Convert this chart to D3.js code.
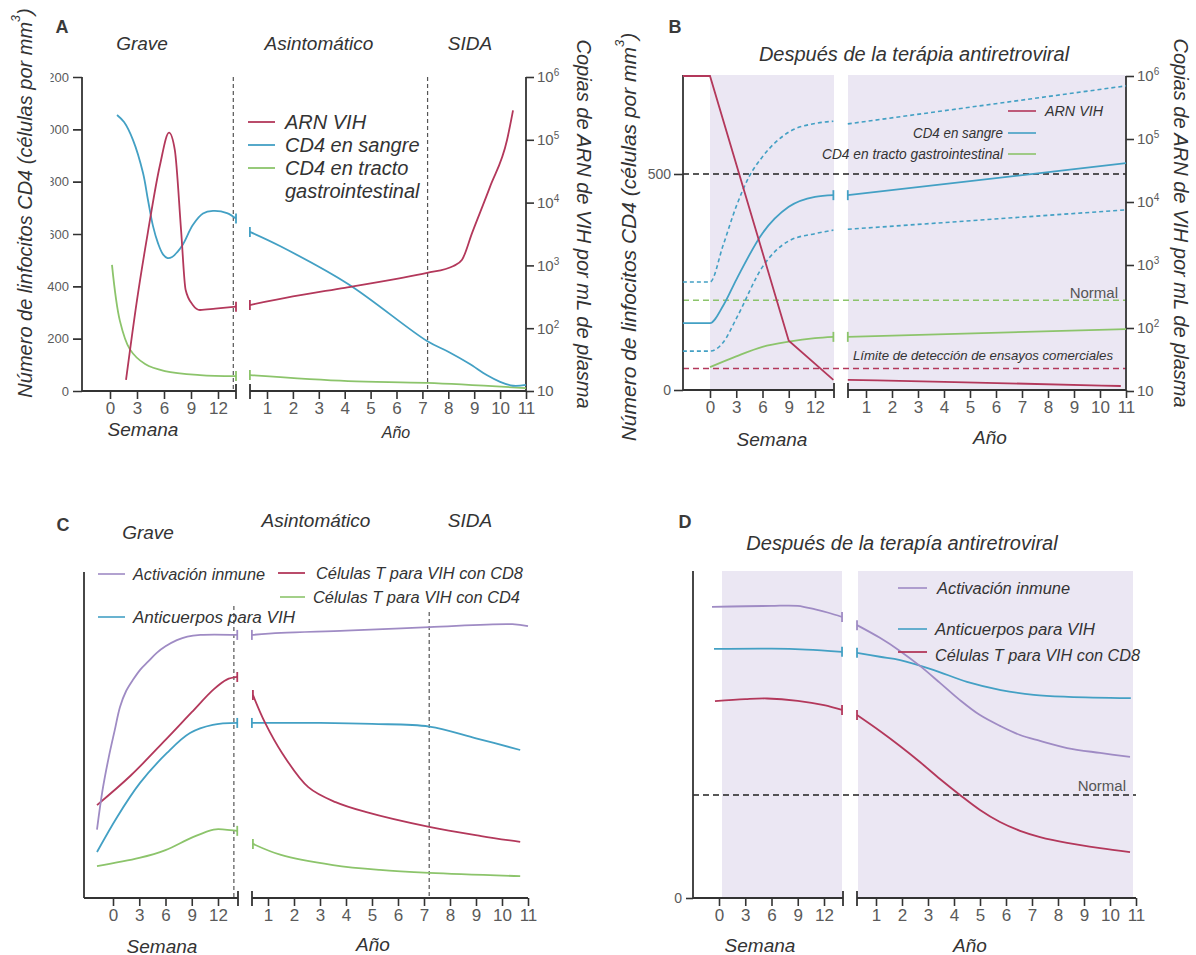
<!DOCTYPE html>
<html><head><meta charset="utf-8">
<script src="https://cdn.jsdelivr.net/npm/d3@7"></script>
<style>
body{margin:0;background:#fff;}
svg text{font-family:"Liberation Sans",Arial,sans-serif;}
</style></head><body>
<svg id="c" width="1196" height="955"></svg>
<script>
// ---------------- DATA ----------------
const weekTicks=[0,3,6,9,12];
const yearTicks=[1,2,3,4,5,6,7,8,9,10,11];
const aCd4Ticks=[0,200,400,600,800,1000,1200];
const bCd4Ticks=[0,500];
const dTicks=[0];
const rnaTicks=[10,100,1000,10000,100000,1000000];
const phaseNames=["Grave","Asintomático","SIDA"];
const phaseBreaks=[13.7,7.2]; // week boundary, year boundary

// Panel A  [week|year, value]
const aRnaWeeks=[[1.78,15],[3,280],[4.2,3300],[5.56,40000],[6.56,130000],[7.2,69000],[7.9,3600],[8.4,410],[9.2,235],[10,195],[11.7,205],[14,220]];
const aRnaYears=[[0.34,234],[2,320],[4,440],[6,610],[7.18,760],[8.2,980],[8.53,1230],[8.92,3300],[9.61,17800],[10.27,100000],[10.5,295000]];
const aCd4BloodWeeks=[[0.78,1055],[1.56,1028],[2.56,959],[3.67,833],[4.22,730],[4.78,630],[5.33,565],[5.89,522],[6.4,508],[6.9,512],[7.5,532],[8.1,560],[9.22,635],[10.33,678],[11.44,688],[13,680],[14,659]];
const aCd4BloodYears=[[0.34,608],[1.5,554],[4.13,409],[7.18,191],[8,150],[8.8,105],[9.5,60],[10,35],[10.5,20],[11,23]];
const aCd4GutWeeks=[[0.22,482],[1.1,268],[2.2,160],[3.9,103],[6.1,76],[10,61],[14,57]];
const aCd4GutYears=[[0.34,61],[4.13,38],[7.18,31],[11,11]];

// Panel B
const bRnaWeeks=[[-3.1,1000000],[0,1000000],[9,63],[14.1,15]];
const bRnaYears=[[0.3,15],[4,14],[10.8,12]];
const bCd4BloodWeeks=[[-3.1,155],[0,155],[1.5,195],[3,255],[6,363],[9,424],[12,447],[14.1,451]];
const bCd4BloodYears=[[0.3,451],[11,525]];
const bCd4UpperWeeks=[[-3.1,250],[0,250],[1.5,335],[3,425],[4.5,495],[6,540],[9,597],[12,617],[14.1,622]];
const bCd4UpperYears=[[0.3,616],[11,704]];
const bCd4LowerWeeks=[[-3.1,90],[0,90],[1.5,110],[3,165],[6,285],[9,345],[12,362],[14.1,370]];
const bCd4LowerYears=[[0.3,372],[11,417]];
const bCd4GutWeeks=[[0,53],[3,78],[6,100],[9,112],[12,120],[14.1,123]];
const bCd4GutYears=[[0.3,123],[11,141]];
const bReference=500, bGutNormal=208, bDetectionLimit=50;

// Panel C (relative units 0-100)
const cImmuneWeeks=[[-1.83,21],[-1.2,33],[-0.5,43],[0.2,51.5],[0.8,58.6],[1.5,63.5],[2.3,67],[3.1,70],[4,72.5],[5,75.2],[6,77.2],[7.3,79.1],[8.5,80.2],[10,80.7],[14.2,80.7]];
const cImmuneYears=[[0.38,80.7],[1.5,81.3],[4,82],[7.2,83.1],[10.4,84],[11,83.4]];
const cCd8Weeks=[[-1.83,28.5],[2,37.5],[6,48.5],[9,57],[11.5,64],[13,67],[14.2,67.8]];
const cCd8Years=[[0.42,62.3],[0.89,53.7],[1.54,44.5],[2.55,34],[3.6,29.4],[4.75,26.4],[7.2,21.8],[9.2,19],[10.7,17.2]];
const cAbWeeks=[[-1.83,14.1],[0.46,24.8],[3.09,35.3],[6.17,44.5],[8.8,50.6],[11.4,53.1],[14.2,53.7]];
const cAbYears=[[0.38,53.7],[3,53.7],[5,53.4],[7.2,52.6],[9,49],[10.7,45.4]];
const cCd4Weeks=[[-1.83,9.8],[3,12.3],[6,14.7],[9,18.5],[11.5,21],[12.8,21],[14.2,20.6]];
const cCd4Years=[[0.42,16.6],[1.5,13.2],[3.5,10.1],[5.3,8.6],[7.2,7.7],[10.7,6.7]];

// Panel D
const dImmuneWeeks=[[-0.8,89.3],[3,89.5],[6,89.6],[9,89.6],[11,88.5],[12.5,87.5],[14.06,86.2]];
const dImmuneYears=[[0.27,83.7],[1.15,79.8],[1.92,75.8],[2.69,71.2],[3.46,66],[4.23,60.7],[5,56.1],[5.77,52.8],[6.54,50],[7.31,48.2],[8.35,46],[9.62,44.5],[10.77,43.3]];
const dAbWeeks=[[-0.57,76.4],[6,76.5],[10,76.2],[14.06,75.5]];
const dAbYears=[[0.27,75.2],[1.15,74],[1.93,73],[3.2,70],[4.5,66.3],[5.8,63.8],[7.07,62.3],[8.4,61.7],[10.8,61.3]];
const dCd8Weeks=[[-0.46,60.4],[3,61],[5.5,61.2],[9,60.5],[12,59.2],[14.06,57.7]];
const dCd8Years=[[0.27,56.1],[1.15,51.2],[1.92,46.6],[2.69,41.7],[3.46,36.5],[4.23,31.6],[5,27],[5.77,23.3],[6.54,20.6],[7.31,18.7],[8.35,16.9],[9.62,15.3],[10.77,14.1]];
const dNormal=31.6;

// ---------------- STYLE ----------------
const RED="#b3385b", BLUE="#43a0c4", GREEN="#8cc46b", PURPLE="#9f8bc4", SHADE="#ebe7f3", INK="#333", TICKC="#5a5a5a";
const SMOOTH=d3.curveCatmullRom.alpha(0.5);
const svg=d3.select("#c");

function curve(g,data,x,y,color,o={}){
  const gen=d3.line().x(d=>x(d[0])).y(d=>y(d[1])).curve(o.curve||SMOOTH);
  g.append("path").attr("d",gen(data)).attr("fill","none").attr("stroke",color)
   .attr("stroke-width",o.w||1.8).attr("stroke-dasharray",o.dash||null).attr("stroke-linecap","butt");
  const cap=d=>g.append("line").attr("x1",x(d[0])).attr("x2",x(d[0])).attr("y1",y(d[1])-5).attr("y2",y(d[1])+5)
     .attr("stroke",color).attr("stroke-width",1.8);
  if(o.capStart) cap(data[0]);
  if(o.capEnd) cap(data[data.length-1]);
}
function styleAxis(ax,fs){
  ax.select(".domain").remove();
  ax.selectAll(".tick line").attr("stroke",INK).attr("stroke-width",1.6);
  ax.selectAll(".tick text").attr("font-family","Lato,'Open Sans',sans-serif").attr("font-size",fs).attr("fill",TICKC);
}
function brokenX(g,c){
  const L=(x1,x2)=>g.append("line").attr("x1",x1).attr("x2",x2).attr("y1",c.y).attr("y2",c.y).attr("stroke",INK).attr("stroke-width",1.8);
  L(c.x0,c.b1); L(c.b2,c.x1);
  [c.b1,c.b2].forEach(bx=>g.append("line").attr("x1",bx).attr("x2",bx).attr("y1",c.y-7).attr("y2",c.y+8).attr("stroke",INK).attr("stroke-width",1.8));
  const a1=g.append("g").attr("transform",`translate(0,${c.y})`).call(d3.axisBottom(c.xW).tickValues(weekTicks).tickSize(8).tickPadding(3));
  const a2=g.append("g").attr("transform",`translate(0,${c.y})`).call(d3.axisBottom(c.xY).tickValues(yearTicks).tickSize(8).tickPadding(3));
  styleAxis(a1,17); styleAxis(a2,17);
}
function vline(g,x,y1,y2,color,w,dash){
  g.append("line").attr("x1",x).attr("x2",x).attr("y1",y1).attr("y2",y2).attr("stroke",color).attr("stroke-width",w).attr("stroke-dasharray",dash||null);
}
function hline(g,x1,x2,y,color,w,dash){
  g.append("line").attr("x1",x1).attr("x2",x2).attr("y1",y).attr("y2",y).attr("stroke",color).attr("stroke-width",w).attr("stroke-dasharray",dash||null);
}
function txt(g,x,y,s,o={}){
  const t=g.append("text").attr("x",x).attr("y",y).attr("dominant-baseline","central")
    .attr("text-anchor",o.anchor||"start").attr("font-size",o.fs||16).attr("fill",o.fill||INK)
    .attr("font-style",o.italic===false?"normal":"italic").text(s);
  if(o.font) t.attr("font-family",o.font);
  if(o.bold) t.attr("font-weight","bold");
  if(o.len) t.attr("textLength",o.len).attr("lengthAdjust","spacingAndGlyphs");
  return t;
}
function letter(x,y,s){
  svg.append("text").attr("x",x).attr("y",y).attr("text-anchor","middle").attr("dominant-baseline","central")
    .attr("font-family","Lato,'Open Sans',sans-serif").attr("font-weight","bold").attr("font-size",18).attr("fill","#3a3a3a").text(s);
}
function cd4Title(g,x,y,fs){
  const t=g.append("text").attr("transform",`translate(${x},${y}) rotate(-90)`).attr("text-anchor","middle")
    .attr("dominant-baseline","central").attr("font-size",fs).attr("font-style","italic").attr("fill",INK);
  t.append("tspan").text("Número de linfocitos CD4 (células por mm");
  t.append("tspan").attr("font-size",fs*0.62).attr("dy",-fs*0.45).text("3");
  t.append("tspan").attr("dy",fs*0.45).text(")");
}
function rnaTitle(g,x,y,fs){
  g.append("text").attr("transform",`translate(${x},${y}) rotate(90)`).attr("text-anchor","middle")
    .attr("dominant-baseline","central").attr("font-size",fs).attr("font-style","italic").attr("fill",INK)
    .text("Copias de ARN de VIH por mL de plasma");
}
function rnaAxis(g,x,yR){
  vline(g,x,yR.range()[1],yR.range()[0],INK,1.8);
  const ax=g.append("g").attr("transform",`translate(${x},0)`).call(d3.axisRight(yR).tickValues(rnaTicks).tickSize(8).tickPadding(3).tickFormat(()=>""));
  styleAxis(ax,15);
  ax.selectAll(".tick text").each(function(d){
    const e=Math.round(Math.log10(d)); const s=d3.select(this);
    s.text("10");
    if(e>1) s.append("tspan").attr("font-size",10).attr("dy",-6).text(e);
  });
}

// ================= PANEL A =================
{
const g=svg.append("g");
const xW=d3.scaleLinear().domain([0,12]).range([110,218]);
const xY=d3.scaleLinear().domain([1,11]).range([267,526]);
const yL=d3.scaleLinear().domain([0,1200]).range([391,77]);
const yR=d3.scaleLog().domain([10,1e6]).range([391,77]);
letter(62,27,"A");
txt(g,142,43,phaseNames[0],{anchor:"middle",fs:19});
txt(g,319,43,phaseNames[1],{anchor:"middle",fs:19});
txt(g,470,43,phaseNames[2],{anchor:"middle",fs:19});
vline(g,xW(phaseBreaks[0]),77,391,"#555",1.2,"4,3");
vline(g,xY(phaseBreaks[1]),77,391,"#555",1.2,"4,3");
// left axis
vline(g,82,77,391,INK,1.8);
const clip=svg.append("defs").append("clipPath").attr("id","aclip");
clip.append("rect").attr("x",50.5).attr("y",0).attr("width",60).attr("height",955);
clip.append("rect").attr("x",0).attr("y",240).attr("width",110).attr("height",715);
const wrap=g.append("g").attr("clip-path","url(#aclip)");
const la=wrap.append("g").attr("transform","translate(82,0)").call(d3.axisLeft(yL).tickValues(aCd4Ticks).tickSize(9).tickPadding(4));
styleAxis(la,13);
rnaAxis(g,526,yR);
brokenX(g,{y:391,x0:82,b1:236,b2:250,x1:526,xW:xW,xY:xY});
// curves
curve(g,aCd4GutWeeks,xW,yL,GREEN,{capEnd:true});
curve(g,aCd4GutYears,xY,yL,GREEN,{capStart:true});
curve(g,aCd4BloodWeeks,xW,yL,BLUE,{capEnd:true});
curve(g,aCd4BloodYears,xY,yL,BLUE,{capStart:true});
curve(g,aRnaWeeks,xW,yR,RED,{capEnd:true,curve:d3.curveMonotoneX});
curve(g,aRnaYears,xY,yR,RED,{capStart:true,curve:d3.curveMonotoneX});
// legend
[[RED,122],[BLUE,145],[GREEN,168]].forEach(([c,y])=>hline(g,248,275,y,c,1.8));
txt(g,285,122,"ARN VIH",{fs:20});
txt(g,285,145,"CD4 en sangre",{fs:20});
txt(g,285,168,"CD4 en tracto",{fs:20});
txt(g,285,191,"gastrointestinal",{fs:20});
cd4Title(g,25,203,20);
rnaTitle(g,584,224,20);
txt(g,143,429,"Semana",{anchor:"middle",fs:19});
txt(g,396,432,"Año",{anchor:"middle",fs:16});
}

// ================= PANEL B =================
{
const g=svg.append("g");
const xW=d3.scaleLinear().domain([0,12]).range([710,815]);
const xY=d3.scaleLinear().domain([1,11]).range([866,1126]);
const yL=d3.scaleLinear().domain([0,500]).range([390,174]);
const yR=d3.scaleLog().domain([10,1e6]).range([391,76]);
letter(675,27,"B");
txt(g,914,54,"Después de la terápia antiretroviral",{anchor:"middle",fs:20});
g.append("rect").attr("x",xW(0)).attr("y",75).attr("width",834-xW(0)).attr("height",315).attr("fill",SHADE);
g.append("rect").attr("x",848).attr("y",75).attr("width",1126-848).attr("height",315).attr("fill",SHADE);
hline(g,683,1126,yL(bReference),"#222",1.5,"6,4");
hline(g,683,1126,yL(bGutNormal),GREEN,1.5,"6,4");
hline(g,683,1126,yL(bDetectionLimit),RED,1.5,"6,4");
txt(g,1118,292,"Normal",{anchor:"end",fs:15,italic:false,fill:"#555"});
txt(g,853,355,"Límite de detección de ensayos comerciales",{fs:13,len:260});
vline(g,683,75,390,INK,1.8);
const la=g.append("g").attr("transform","translate(683,0)").call(d3.axisLeft(yL).tickValues(bCd4Ticks).tickSize(9).tickPadding(3));
styleAxis(la,14);
rnaAxis(g,1126,yR);
brokenX(g,{y:390,x0:683,b1:834,b2:848,x1:1126,xW:xW,xY:xY});
const MX=d3.curveMonotoneX;
curve(g,bCd4UpperWeeks,xW,yL,BLUE,{dash:"4,3",w:1.6,curve:MX});
curve(g,bCd4UpperYears,xY,yL,BLUE,{dash:"4,3",w:1.6,curve:MX});
curve(g,bCd4LowerWeeks,xW,yL,BLUE,{dash:"4,3",w:1.6,curve:MX});
curve(g,bCd4LowerYears,xY,yL,BLUE,{dash:"4,3",w:1.6,curve:MX});
curve(g,bCd4GutWeeks,xW,yL,GREEN,{capEnd:true,curve:MX});
curve(g,bCd4GutYears,xY,yL,GREEN,{capStart:true,curve:MX});
curve(g,bCd4BloodWeeks,xW,yL,BLUE,{capEnd:true,curve:MX});
curve(g,bCd4BloodYears,xY,yL,BLUE,{capStart:true,curve:MX});
curve(g,bRnaWeeks,xW,yR,RED,{curve:d3.curveLinear});
curve(g,bRnaYears,xY,yR,RED,{curve:MX});
// legend
hline(g,1008,1036,111,RED,1.6); txt(g,1045,111,"ARN VIH",{fs:14,len:58});
hline(g,1008,1036,133,BLUE,1.6); txt(g,1003,133,"CD4 en sangre",{fs:14,anchor:"end",len:90});
hline(g,1008,1036,154,GREEN,1.6); txt(g,1003,154,"CD4 en tracto gastrointestinal",{fs:14,anchor:"end",len:181});
cd4Title(g,628,237,21);
rnaTitle(g,1181,223,20);
txt(g,772,439,"Semana",{anchor:"middle",fs:19});
txt(g,990,437,"Año",{anchor:"middle",fs:19});
}

// ================= PANEL C =================
{
const g=svg.append("g");
const xW=d3.scaleLinear().domain([0,12]).range([113,218]);
const xY=d3.scaleLinear().domain([1,11]).range([268,528]);
const y=d3.scaleLinear().domain([0,100]).range([898,572]);
letter(63,525,"C");
txt(g,148,532,phaseNames[0],{anchor:"middle",fs:19});
txt(g,316,520,phaseNames[1],{anchor:"middle",fs:19});
txt(g,470,520,phaseNames[2],{anchor:"middle",fs:19});
vline(g,xW(phaseBreaks[0])+1,606,898,"#555",1.2,"4,3");
vline(g,xY(phaseBreaks[1]),612,898,"#555",1.2,"4,3");
vline(g,84,572,898,INK,1.8);
brokenX(g,{y:898,x0:84,b1:238,b2:252,x1:528,xW:xW,xY:xY});
curve(g,cCd4Weeks,xW,y,GREEN,{capEnd:true});
curve(g,cCd4Years,xY,y,GREEN,{capStart:true});
curve(g,cAbWeeks,xW,y,BLUE,{capEnd:true});
curve(g,cAbYears,xY,y,BLUE,{capStart:true});
curve(g,cCd8Weeks,xW,y,RED,{capEnd:true});
curve(g,cCd8Years,xY,y,RED,{capStart:true});
curve(g,cImmuneWeeks,xW,y,PURPLE,{capEnd:true});
curve(g,cImmuneYears,xY,y,PURPLE,{capStart:true});
hline(g,98,125,574,PURPLE,1.6); txt(g,133,574,"Activación inmune",{fs:16,len:132});
hline(g,278,305,573,RED,1.8); txt(g,316,573,"Células T para VIH con CD8",{fs:16,len:207});
hline(g,280,305,597,GREEN,1.6); txt(g,313,597,"Células T para VIH con CD4",{fs:16,len:207});
hline(g,98,125,617,BLUE,1.6); txt(g,133,617,"Anticuerpos para VIH",{fs:16,len:162});
txt(g,162,946,"Semana",{anchor:"middle",fs:19});
txt(g,373,944,"Año",{anchor:"middle",fs:19});
}

// ================= PANEL D =================
{
const g=svg.append("g");
const xW=d3.scaleLinear().domain([0,12]).range([719,824]);
const xY=d3.scaleLinear().domain([1,11]).range([876,1136]);
const y=d3.scaleLinear().domain([0,100]).range([898,572]);
letter(685,522,"D");
txt(g,902,543,"Después de la terapía antiretroviral",{anchor:"middle",fs:20});
g.append("rect").attr("x",722).attr("y",571).attr("width",842-722).attr("height",327).attr("fill",SHADE);
g.append("rect").attr("x",858).attr("y",571).attr("width",1133-858).attr("height",327).attr("fill",SHADE);
hline(g,693,1136,y(dNormal),"#222",1.5,"6,4");
txt(g,1126,785,"Normal",{anchor:"end",fs:15,italic:false,fill:"#555"});
vline(g,693,571,898,INK,1.8);
const la=g.append("g").attr("transform","translate(693,0)").call(d3.axisLeft(y).tickValues(dTicks).tickSize(7).tickPadding(4));
styleAxis(la,14);
brokenX(g,{y:898,x0:693,b1:843,b2:857,x1:1136,xW:xW,xY:xY});
curve(g,dAbWeeks,xW,y,BLUE,{capEnd:true});
curve(g,dAbYears,xY,y,BLUE,{capStart:true});
curve(g,dImmuneWeeks,xW,y,PURPLE,{capEnd:true});
curve(g,dImmuneYears,xY,y,PURPLE,{capStart:true});
curve(g,dCd8Weeks,xW,y,RED,{capEnd:true});
curve(g,dCd8Years,xY,y,RED,{capStart:true});
hline(g,898,927,588,PURPLE,1.6); txt(g,937,588,"Activación inmune",{fs:16,len:133});
hline(g,898,927,629,BLUE,1.6); txt(g,935,629,"Anticuerpos para VIH",{fs:16,len:160});
hline(g,898,927,652,RED,1.8); txt(g,935,655,"Células T para VIH con CD8",{fs:16,len:205});
txt(g,760,945,"Semana",{anchor:"middle",fs:19});
txt(g,970,945,"Año",{anchor:"middle",fs:19});
}
</script>
</body></html>
